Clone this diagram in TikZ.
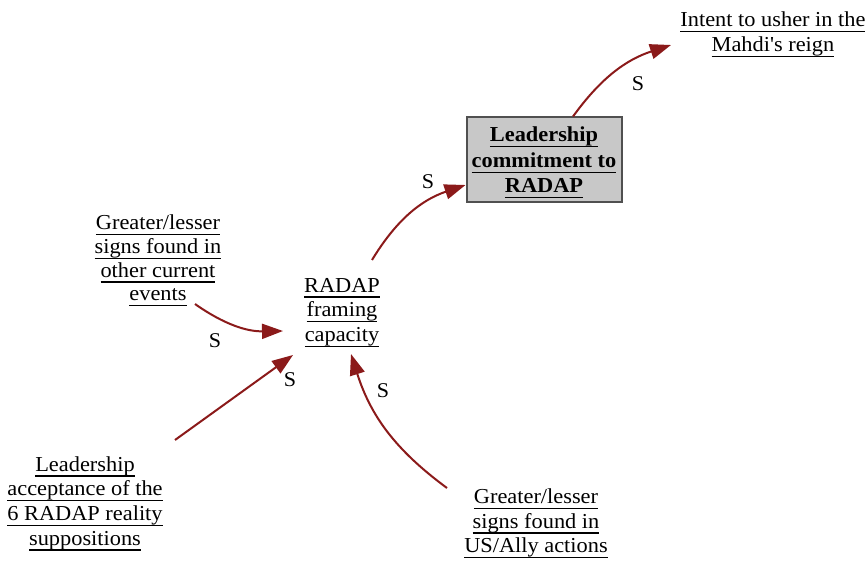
\documentclass[tikz,border=0pt]{standalone}
\usepackage{fontspec}
\setmainfont[FakeStretch=1.05]{Liberation Serif}
\newfontfamily\plainserif[FakeStretch=1.05]{Liberation Serif}
\usetikzlibrary{arrows.meta}
\definecolor{arr}{HTML}{8B1A1A}
\definecolor{boxfill}{HTML}{C8C8C8}
\definecolor{boxline}{HTML}{505050}
\newcommand{\uln}[1]{\leavevmode\setbox0\hbox{#1}\rlap{\smash{\rule[-5.5pt]{\wd0}{1.3pt}}}\box0}
\begin{document}
\begin{tikzpicture}[x=1pt,y=-1pt,
  lbl/.style={font=\fontsize{21.3}{24.7}\selectfont, align=center, inner sep=0pt},
  keybox/.style={lbl, font=\fontsize{21.3}{25.5}\selectfont\bfseries, draw=boxline, line width=2pt, fill=boxfill, minimum width=155pt, minimum height=85pt},
  link/.style={draw=arr, line width=2pt, -{Triangle[length=21pt,width=15pt]}},
  sl/.style={font=\fontsize{21}{24}\selectfont, inner sep=0pt}]
\useasboundingbox (0,0) rectangle (865,561);

\node[lbl] (intent) at (773,34) {\uln{Intent to usher in the}\\\uln{Mahdi{\plainserif'}s reign}};
\node[keybox] (lead) at (544,160) {\uln{Leadership}\\\uln{commitment to}\\\uln{RADAP}};
\node[lbl] (radap) at (342,312) {\uln{RADAP}\\\uln{framing}\\\uln{capacity}};
\node[lbl, font=\fontsize{21.3}{23.6}\selectfont] (events) at (158,258) {\uln{Greater/lesser}\\\uln{signs found in}\\\uln{other current}\\\uln{events}};
\node[lbl] (accept) at (85,503) {\uln{Leadership}\\\uln{acceptance of the}\\\uln{6 RADAP reality}\\\uln{suppositions}};
\node[lbl] (usally) at (536,523) {\uln{Greater/lesser}\\\uln{signs found in}\\\uln{US/Ally actions}};

\draw[link] ([xshift=30pt,yshift=52pt]radap.center) to[bend left=20] ([yshift=-25pt]lead.west);
\draw[link] ([xshift=29pt]lead.north) to[bend left=18] ([xshift=-102pt,yshift=-11pt]intent.center);
\draw[link] ([xshift=37pt,yshift=-46pt]events.center) to[bend right=18] ([xshift=-59pt,yshift=-19pt]radap.center);
\draw[link] ([xshift=90pt,yshift=63pt]accept.center) -- ([xshift=-49pt,yshift=-43pt]radap.center);
\draw[link] ([xshift=-89pt,yshift=35pt]usally.center) to[bend left=18] ([xshift=9pt,yshift=-42pt]radap.center);

\node[sl] (s1) at (428,182) {S};
\node[sl] (s2) at (638,84) {S};
\node[sl] (s3) at (215,341) {S};
\node[sl] (s4) at (290,380) {S};
\node[sl] (s5) at (383,391) {S};
\end{tikzpicture}
\end{document}
